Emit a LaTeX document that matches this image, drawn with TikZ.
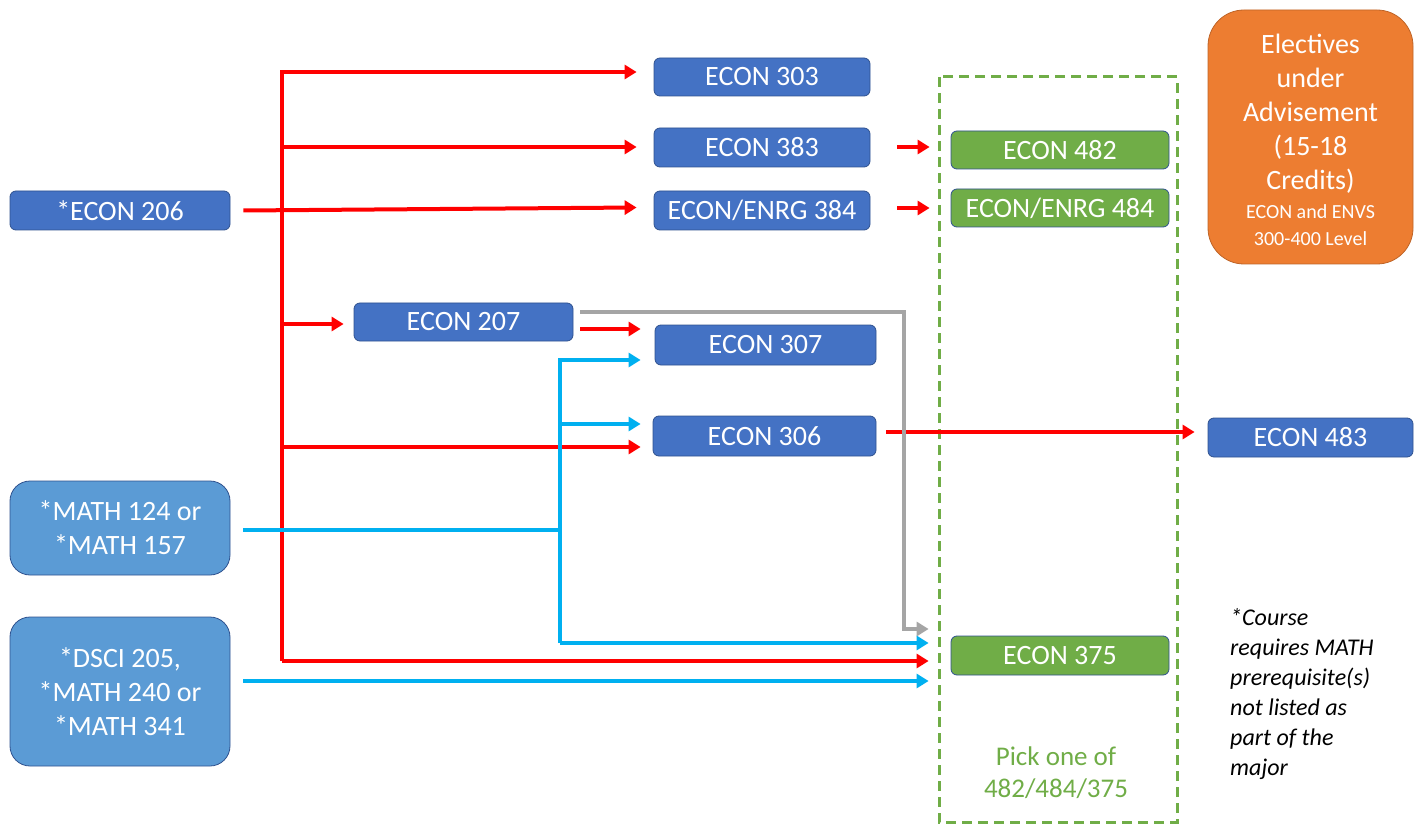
\documentclass[tikz,border=0pt]{standalone}
\usepackage{fontspec}
\setmainfont{Carlito}
\usetikzlibrary{arrows.meta,calc}
\definecolor{dblue}{HTML}{4472C4}
\definecolor{lblue}{HTML}{5B9BD5}
\definecolor{bord}{HTML}{2F528F}
\definecolor{gfill}{HTML}{70AD47}
\definecolor{ofill}{HTML}{ED7D31}
\definecolor{cyanl}{HTML}{00B0F0}
\definecolor{grayl}{HTML}{A5A5A5}
\definecolor{redl}{HTML}{FF0000}
\tikzset{
  box/.style={draw=bord, line width=0.8pt, rounded corners=6pt, text=white, inner sep=0pt,
    font=\fontsize{28}{34}\selectfont, align=center},
  darkbox/.style={box, fill=dblue},
  greenbox/.style={box, fill=gfill},
  lightbox/.style={box, fill=lblue, rounded corners=20pt},
  tip/.style={-{Triangle[length=12pt,width=14pt]}},
  rl/.style={draw=redl, line width=4pt},
  ra/.style={rl, tip},
  bl/.style={draw=cyanl, line width=4pt},
  ba/.style={bl, tip},
  ga/.style={draw=grayl, line width=4pt, tip},
}
\newcommand{\smallelec}{\fontsize{20}{27}\selectfont}
\begin{document}
\begin{tikzpicture}[x=1pt,y=-1pt]
\useasboundingbox (0,0) rectangle (1424,834);
% dashed group
\draw[gfill, line width=3pt, dash pattern=on 10pt off 6pt] (939,77) rectangle (1177,822);
% nodes
\node[darkbox, minimum width=220pt, minimum height=39pt] (e206) at (120,210.5) {*ECON 206};
\node[darkbox, minimum width=216pt, minimum height=38pt] (e303) at (762,77) {ECON 303};
\node[darkbox, minimum width=216pt, minimum height=39pt] (e383) at (762,147.5) {ECON 383};
\node[darkbox, minimum width=216pt, minimum height=39pt] (e384) at (762,210.5) {ECON/ENRG 384};
\node[greenbox, minimum width=218pt, minimum height=38pt] (e482) at (1060,150) {ECON 482};
\node[greenbox, minimum width=218pt, minimum height=38pt] (e484) at (1060,208) {ECON/ENRG 484};
\node[box, fill=ofill, draw=ofill!80!black, rounded corners=36pt, minimum width=205pt, minimum height=254pt] (elec) at (1310.5,137)
  {\rule{0pt}{25pt}Electives\\under\\Advisement\\(15-18\\Credits)\\[-5pt]\smallelec ECON and ENVS\\[-7pt]\smallelec 300-400 Level};
\node[darkbox, minimum width=219pt, minimum height=38pt] (e207) at (463.5,322) {ECON 207};
\node[darkbox, minimum width=221pt, minimum height=40pt] (e307) at (765.5,345) {ECON 307};
\node[darkbox, minimum width=223pt, minimum height=40pt] (e306) at (764.5,436) {ECON 306};
\node[darkbox, minimum width=205pt, minimum height=39pt] (e483) at (1310.5,437.5) {ECON 483};
\node[lightbox, minimum width=220pt, minimum height=94pt] (math) at (120,528) {*MATH 124 or\\*MATH 157};
\node[lightbox, minimum width=220pt, minimum height=149pt] (dsci) at (120,691.5) {*DSCI 205,\\*MATH 240 or\\*MATH 341};
\node[greenbox, minimum width=218pt, minimum height=39pt] (e375) at (1060,655.5) {ECON 375};
\node[text=gfill, font=\fontsize{27}{32}\selectfont, align=center] (pick) at (1056,773) {Pick one of\\482/484/375};
\node[anchor=north west, font=\fontsize{24}{30}\selectfont\itshape, align=left, inner sep=0pt] (note) at (1230,608)
  {*Course\\requires MATH\\prerequisite(s)\\not listed as\\part of the\\major};
% coordinates
\coordinate (tT) at (282,72);
\coordinate (tB) at (282,661);
\coordinate (t383) at (282,147);
\coordinate (t207) at (282,324);
\coordinate (t306) at (282,447);
\coordinate (bT) at (560,360);
\coordinate (bB) at (560,643);
\coordinate (b306) at (560,424);
\coordinate (bM) at (560,530);
\coordinate (gC) at (904,312);
\coordinate (gD) at (904,629);
% red connectors
\draw[ra] (tB) -- (tT) -- ([xshift=-17pt]e303.west |- tT);
\draw[ra] (t383) -- ([xshift=-17pt]e383.west |- t383);
\draw[ra] ([xshift=13pt]e206.east) -- ([xshift=-17pt,yshift=3pt]e384.west);
\draw[ra] (t207) -- ([xshift=-10pt]e207.west |- t207);
\draw[ra] (t306) -- ([xshift=-12pt]e306.west |- t306);
\draw[ra] (tB) -- ([xshift=-22pt]e375.west |- tB);
\draw[ra] ([xshift=7pt,yshift=-7pt]e207.east) -- ([xshift=-14pt]e307.west |- {(0,329)});
\draw[ra] ([xshift=27pt]e383.east |- {(0,147)}) -- ([xshift=-21pt]e482.west |- {(0,147)});
\draw[ra] ([xshift=27pt]e384.east |- {(0,208)}) -- ([xshift=-21pt]e484.west |- {(0,208)});
\draw[ra] ([xshift=10pt]e306.east |- {(0,432)}) -- ([xshift=-13pt]e483.west |- {(0,432)});
% gray connector
\draw[ga] ([xshift=7pt]e207.east |- {(0,312)}) -- (gC) -- (gD) -- ([xshift=-22pt]e375.west |- gD);
% cyan connectors
\draw[bl] ([xshift=13pt]math.east |- bM) -- (bM);
\draw[ba] (bB) -- (bT) -- ([xshift=-14pt]e307.west |- bT);
\draw[ba] (b306) -- ([xshift=-12pt]e306.west |- b306);
\draw[ba] (bB) -- ([xshift=-22pt]e375.west |- bB);
\draw[ba] ([xshift=13pt]dsci.east |- {(0,681)}) -- ([xshift=-22pt]e375.west |- {(0,681)});
\end{tikzpicture}
\end{document}
